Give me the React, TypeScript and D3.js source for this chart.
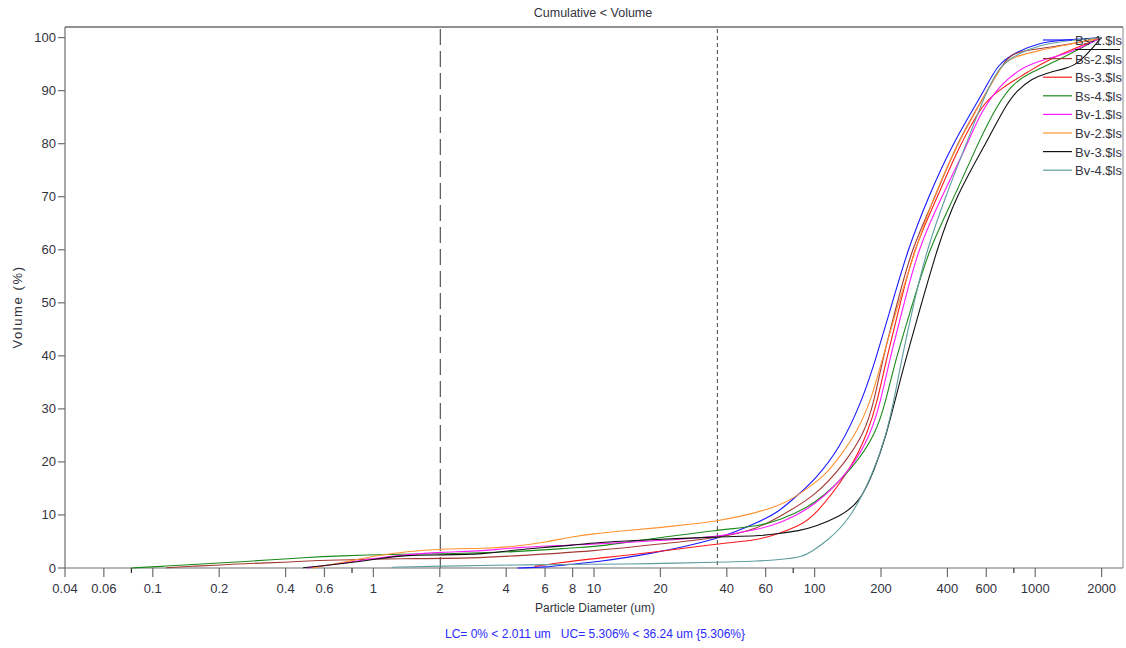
import React from "react";
import * as d3 from "d3";

// ---- data (diameter in um, cumulative volume %) ----
const seriesNames = ["Bs-1.$ls", "Bs-2.$ls", "Bs-3.$ls", "Bs-4.$ls", "Bv-1.$ls", "Bv-2.$ls", "Bv-3.$ls", "Bv-4.$ls"];
const seriesColors = ["#1a1aff", "#a33a35", "#ff1a1a", "#1a8a1a", "#ff1aff", "#ff9433", "#111111", "#5f9ea0"];

const bs1: [number, number][] = [
  [4.49, 0], [6.08, 0.15], [7.75, 0.7], [10.2, 1.1], [17.3, 2.5], [37, 5.4], [56, 8.7], [69, 10.6], [85, 14],
  [100, 16.6], [130, 22.5], [164.8, 31.7], [188.8, 39.2], [225, 50], [264, 60], [328, 70],
  [421, 80], [589, 90], [674, 95], [819, 97.3], [1045, 99], [1288, 99.5], [1995, 100],
];
const bs2: [number, number][] = [
  [0.115, 0.05], [0.158, 0.38], [0.207, 0.57], [0.248, 0.8], [0.404, 1.07], [0.532, 1.45], [0.93, 1.64],
  [1.2, 1.75], [3.0, 1.85], [4.4, 2.3], [10.2, 3.2], [17.3, 4.3], [37, 5.6], [56, 7.5], [69, 9.7], [100, 13.4],
  [136.6, 19.7], [168.3, 25.4], [186.8, 31.7], [203, 39.2], [237, 50], [274, 60], [353, 70], [439, 80],
  [607, 90], [710, 95], [788, 97], [913, 97.6], [1474, 98.8], [1995, 100],
];
const bs3: [number, number][] = [
  [5.38, 0.3], [6.6, 0.9], [10.2, 1.8], [17.3, 2.8], [37, 4.6], [56, 5.3], [69, 6.5], [85, 8.0], [100, 9.7],
  [147, 18.8], [173.7, 25.4], [193.4, 31.7], [211, 39.2], [245, 50], [280.6, 60], [360.6, 70], [444, 78.8],
  [576.5, 87.6], [688, 90.1], [805, 92], [913, 93.3], [1124, 95.8], [1995, 100],
];
const bs4: [number, number][] = [
  [0.08, 0], [0.117, 0.38], [0.158, 0.7], [0.227, 1.07], [0.332, 1.5], [0.48, 1.95], [0.7, 2.3], [1.23, 2.6],
  [2.0, 2.65], [4.4, 3.0], [8.6, 3.9], [10.2, 4.0], [17.3, 5.4], [37, 7.2], [56, 7.9], [69, 9.0], [100, 11.8],
  [151.6, 19.1], [190, 25.4], [211, 31.7], [232.5, 39.2], [279, 50], [329, 60], [430, 70], [558.6, 80.7],
  [667, 87], [791, 91.4], [971, 93.6], [1288, 95.8], [1706, 98.6], [1995, 100],
];
const bv1: [number, number][] = [
  [0.5, 0], [0.75, 1.0], [1.0, 1.8], [1.4, 2.5], [2.0, 3.0], [3.2, 3.2], [4.3, 3.9], [10.2, 4.5], [18.5, 5.1],
  [37, 5.9], [56, 7.3], [69, 8.4], [100, 11.5], [148, 18.8], [180.5, 25.4], [200, 31.7], [218.5, 39.2],
  [255, 50], [293.6, 60], [376, 70], [495, 80], [559, 85.5], [688, 91], [875, 94.5], [1124, 96],
  [1474, 97.3], [1995, 100],
];
const bv2: [number, number][] = [
  [0.528, 0], [0.755, 1.2], [1.07, 2.45], [1.41, 3.1], [2.0, 3.6], [3.25, 3.7], [4.29, 4.0], [6.08, 4.9],
  [8.02, 5.9], [10.2, 6.5], [13.5, 7.0], [19.8, 7.6], [28.1, 8.3], [36.4, 8.9], [52.5, 10.2], [69, 11.8],
  [80, 13.1], [100, 16.0], [113, 17.8], [130, 21], [154.8, 25.4], [180.5, 31.7], [200, 38.5], [240, 50],
  [286.6, 60], [345.8, 70], [444, 80], [607, 90], [710, 95], [788, 96.3], [1045, 97.6], [1380, 98.6],
  [1995, 100],
];
const bv3: [number, number][] = [
  [0.48, 0.05], [0.755, 0.9], [1.07, 1.8], [1.41, 2.45], [2.0, 2.45], [3.2, 2.6], [4.3, 3.4], [6.08, 3.9],
  [8.0, 4.3], [10.2, 4.8], [17.3, 5.3], [37, 5.9], [56, 6.0], [69, 6.5], [85, 7.0], [100, 7.8], [130, 9.7],
  [160, 12.3], [187, 18.5], [211, 25], [232, 31.7], [258, 39.2], [306, 50], [358, 60], [435, 70],
  [607, 80.5], [717.6, 86.5], [821.8, 90], [971, 92.3], [1124, 93.3], [1380, 94.2], [1586, 95.1], [1995, 100],
];
const bv4: [number, number][] = [
  [1.21, 0.15], [2.0, 0.35], [4.4, 0.6], [10.2, 0.7], [17.3, 0.8], [37, 1.1], [56, 1.3], [69, 1.6], [88, 2.0],
  [100, 3.5], [113, 5.0], [144, 9.0], [183, 17.5], [211, 25], [230, 32], [247.6, 39.2], [281.5, 50],
  [322.4, 60], [391.8, 70], [487.7, 80], [588.7, 89], [674, 93.9], [760, 96], [1045, 99], [1995, 100],
];
const seriesData = [bs1, bs2, bs3, bs4, bv1, bv2, bv3, bv4];

const xMajorTicks = [0.04, 0.06, 0.1, 0.2, 0.4, 0.6, 1, 2, 4, 6, 8, 10, 20, 40, 60, 100, 200, 400, 600, 1000, 2000];
const xMinorTicks = [0.08, 0.8, 80, 800];
const yTicks = [0, 10, 20, 30, 40, 50, 60, 70, 80, 90, 100];
const lcDiameter = 2.011;
const ucDiameter = 36.24;

const FONT = "'Liberation Sans Narrow', 'Arial Narrow', 'Liberation Sans', sans-serif";

export default function App() {
  const W = 1126, H = 648;
  const left = 65, right = 1123, top = 27, bottom = 568;
  const x = d3.scaleLog().domain([0.04, 2500]).range([left, right]);
  const y = d3.scaleLinear().domain([0, 102]).range([bottom, top]);
  const line = d3.line<[number, number]>().x((d) => x(d[0])).y((d) => y(d[1])).curve(d3.curveBasis);
  const axisColor = "#6e6e6e";
  const textColor = "#333340";

  return (
    <svg width={W} height={H} style={{ position: "absolute", left: 0, top: 0, background: "#fff" }} fontFamily={FONT}>
      <rect x={0} y={0} width={W} height={H} fill="#fff" />
      <text x={593} y={17} textAnchor="middle" fontSize={12.5} fill={textColor}>Cumulative &lt; Volume</text>

      {/* frame */}
      <line x1={left} x2={right} y1={top} y2={top} stroke="#222" strokeWidth={1} />
      <line x1={right} x2={right} y1={top} y2={bottom} stroke="#888" strokeWidth={1} />
      <line x1={left} x2={left} y1={top} y2={bottom} stroke={axisColor} strokeWidth={1.2} />
      <line x1={left} x2={right} y1={bottom} y2={bottom} stroke={axisColor} strokeWidth={1.2} />

      {/* y ticks */}
      {yTicks.map((t) => (
        <g key={"y" + t}>
          <line x1={left - 7} x2={left} y1={y(t)} y2={y(t)} stroke={axisColor} strokeWidth={1.2} />
          <text x={left - 9} y={y(t) + 4.5} textAnchor="end" fontSize={13} fill={textColor}>{t}</text>
        </g>
      ))}
      <text transform={`translate(22,307) rotate(-90)`} textAnchor="middle" fontSize={13} letterSpacing={1.6} fill={textColor}>Volume (%)</text>

      {/* x ticks */}
      {xMajorTicks.map((t) => (
        <g key={"x" + t}>
          <line x1={x(t)} x2={x(t)} y1={bottom} y2={bottom + 9} stroke={axisColor} strokeWidth={1.2} />
          <text x={x(t)} y={bottom + 25} textAnchor="middle" fontSize={13} fill={textColor}>{String(t)}</text>
        </g>
      ))}
      {xMinorTicks.map((t) => (
        <line key={"m" + t} x1={x(t)} x2={x(t)} y1={bottom} y2={bottom + 5} stroke="#333" strokeWidth={1.2} />
      ))}
      <text x={595} y={612} textAnchor="middle" fontSize={12} fill={textColor}>Particle Diameter (um)</text>
      <text x={595} y={638} textAnchor="middle" fontSize={12} fill="#2a2aff" style={{ whiteSpace: "pre" }}>
        LC= 0% &lt; 2.011 um   UC= 5.306% &lt; 36.24 um {"{5.306%}"}
      </text>

      {/* LC / UC markers */}
      <line x1={x(lcDiameter)} x2={x(lcDiameter)} y1={top + 2} y2={bottom} stroke="#555" strokeWidth={1.2} strokeDasharray="16,6" />
      <line x1={x(ucDiameter)} x2={x(ucDiameter)} y1={top + 2} y2={bottom} stroke="#555" strokeWidth={1.1} strokeDasharray="4,3" />

      {/* curves */}
      {seriesData.map((s, i) => (
        <path key={"s" + i} d={line(s) || ""} fill="none" stroke={seriesColors[i]} strokeWidth={1.1} />
      ))}

      {/* legend */}
      {seriesNames.map((n, i) => {
        const ly = 40 + i * 18.6;
        return (
          <g key={"l" + i}>
            <line x1={1043} x2={1072} y1={ly} y2={ly} stroke={seriesColors[i]} strokeWidth={1.2} />
            <text x={1075} y={ly + 5} fontSize={13} fill={textColor}>{n}</text>
          </g>
        );
      })}
      <line x1={1075} x2={1120} y1={49.5} y2={49.5} stroke="#111" strokeWidth={1} />
    </svg>
  );
}
